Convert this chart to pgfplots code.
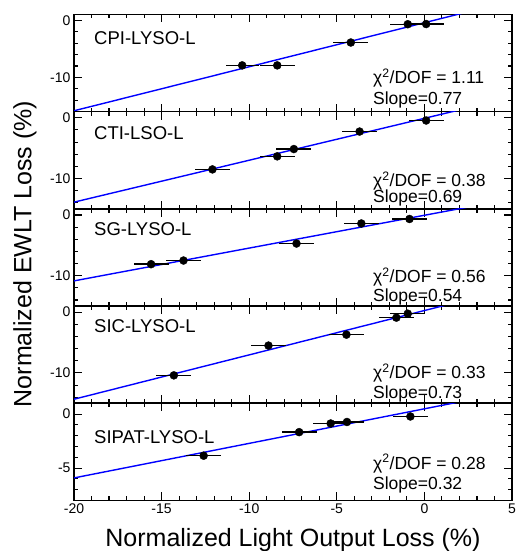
\documentclass[border=0pt]{standalone}
\usepackage{fontspec}
\setmainfont{Liberation Sans}
\usepackage{pgfplots}
\pgfplotsset{compat=1.18}

\pgfplotsset{
  panel/.style={
    scale only axis, width=438pt, height=97.2pt, anchor=south west,
    xmin=-20, xmax=5,
    xtick={-20,-15,-10,-5,0,5}, xticklabels={},
    minor xtick={-19,-18,...,4},
    tick align=inside, xtick pos=both, ytick pos=both,
    major tick length=8pt, minor tick length=4pt,
    every tick/.style={black, line width=1.1pt},
    axis line style={line width=1.6pt},
    tick label style={font=\fontsize{14}{16}\selectfont},
  },
  fitline/.style={blue, line width=1.4pt},
  pts/.style={only marks, mark=*, mark size=4pt, black,
    error bars/.cd, x dir=both, x explicit, y dir=both, y explicit,
    error mark=none, error bar style={line width=1.4pt, black}},
}
\newcommand{\lab}{\fontsize{18.5}{22}\selectfont}
\newcommand{\fit}{\fontsize{17.5}{21}\selectfont}

\begin{document}
\begin{tikzpicture}
\path[use as bounding box] (0pt,0pt) rectangle (515pt,551pt);

% CPI-LYSO-L
\begin{axis}[panel, at={(74pt,439.3pt)}, ymin=-16, ymax=1,
  ytick={-10,0}, yticklabels={-10,0}, minor ytick={-14,-12,...,-2}]
\addplot[fitline] coordinates {(-20,-15.84) (5,3.41)};
\addplot[pts] table[x=x, y=y, x error=ex, y error=ey] {
x y ex ey
-10.4 -7.9 0.95 0
-8.4 -7.9 1.0 0
-4.2 -3.9 1.0 0
-0.95 -0.7 1.0 0
0.1 -0.67 1.0 0
};
\node[anchor=west, font=\lab] at (rel axis cs:0.038,0.76) {CPI-LYSO-L};
\node[anchor=west, font=\fit] at (rel axis cs:0.675,0.35) {χ\textsuperscript{2}/DOF = 1.11};
\node[anchor=west, font=\fit] at (rel axis cs:0.675,0.125) {Slope=0.77};
\end{axis}

% CTI-LSO-L
\begin{axis}[panel, at={(74pt,342.1pt)}, ymin=-15, ymax=1,
  ytick={-10,0}, yticklabels={-10,0}, minor ytick={-14,-12,...,-2}]
\addplot[fitline] coordinates {(-20,-13.89) (5,3.36)};
\addplot[pts] table[x=x, y=y, x error=ex, y error=ey] {
x y ex ey
-12.1 -8.5 1.0 0
-8.4 -6.35 1.0 0
-7.45 -5.15 1.0 0
-3.7 -2.27 1.0 0
0.1 -0.45 1.0 0
};
\node[anchor=west, font=\lab] at (rel axis cs:0.038,0.78) {CTI-LSO-L};
\node[anchor=west, font=\fit] at (rel axis cs:0.675,0.29) {χ\textsuperscript{2}/DOF = 0.38};
\node[anchor=west, font=\fit] at (rel axis cs:0.675,0.11) {Slope=0.69};
\end{axis}

% SG-LYSO-L
\begin{axis}[panel, at={(74pt,244.9pt)}, ymin=-15, ymax=1,
  ytick={-10,0}, yticklabels={-10,0}, minor ytick={-14,-12,...,-2}]
\addplot[fitline] coordinates {(-20,-10.85) (5,2.65)};
\addplot[pts] table[x=x, y=y, x error=ex, y error=ey] {
x y ex ey
-15.6 -8.1 1.0 0
-13.75 -7.5 1.0 0
-7.3 -4.7 1.0 0
-3.6 -1.4 1.0 0
-0.85 -0.66 1.0 0
};
\node[anchor=west, font=\lab] at (rel axis cs:0.038,0.79) {SG-LYSO-L};
\node[anchor=west, font=\fit] at (rel axis cs:0.675,0.30) {χ\textsuperscript{2}/DOF = 0.56};
\node[anchor=west, font=\fit] at (rel axis cs:0.675,0.095) {Slope=0.54};
\end{axis}

% SIC-LYSO-L
\begin{axis}[panel, at={(74pt,147.7pt)}, ymin=-15, ymax=1,
  ytick={-10,0}, yticklabels={-10,0}, minor ytick={-14,-12,...,-2}]
\addplot[fitline] coordinates {(-20,-14.33) (5,3.92)};
\addplot[pts] table[x=x, y=y, x error=ex, y error=ey] {
x y ex ey
-14.3 -10.4 1.0 0
-8.9 -5.5 1.0 0
-4.45 -3.7 1.0 0
-1.6 -0.9 1.0 0
-0.95 -0.25 1.0 0
};
\node[anchor=west, font=\lab] at (rel axis cs:0.038,0.79) {SIC-LYSO-L};
\node[anchor=west, font=\fit] at (rel axis cs:0.675,0.31) {χ\textsuperscript{2}/DOF = 0.33};
\node[anchor=west, font=\fit] at (rel axis cs:0.675,0.10) {Slope=0.73};
\end{axis}

% SIPAT-LYSO-L
\begin{axis}[panel, at={(74pt,50.5pt)}, ymin=-8, ymax=1,
  ytick={-5,0}, yticklabels={-5,0}, minor ytick={-7,-6,...,-1},
  xticklabels={-20,-15,-10,-5,0,5}]
\addplot[fitline] coordinates {(-20,-5.91) (5,2.09)};
\addplot[pts] table[x=x, y=y, x error=ex, y error=ey] {
x y ex ey
-12.6 -3.85 1.0 0.3
-7.15 -1.67 1.0 0.3
-5.35 -0.87 1.0 0.3
-4.42 -0.73 1.0 0.3
-0.8 -0.22 1.0 0.3
};
\node[anchor=west, font=\lab] at (rel axis cs:0.038,0.65) {SIPAT-LYSO-L};
\node[anchor=west, font=\fit] at (rel axis cs:0.675,0.38) {χ\textsuperscript{2}/DOF = 0.28};
\node[anchor=west, font=\fit] at (rel axis cs:0.675,0.16) {Slope=0.32};
\end{axis}

\node[rotate=90, font=\fontsize{25}{30}\selectfont] at (25pt,297pt) {Normalized EWLT Loss (\%)};
\node[font=\fontsize{25}{30}\selectfont] at (293pt,11pt) {Normalized Light Output Loss (\%)};
\end{tikzpicture}
\end{document}
